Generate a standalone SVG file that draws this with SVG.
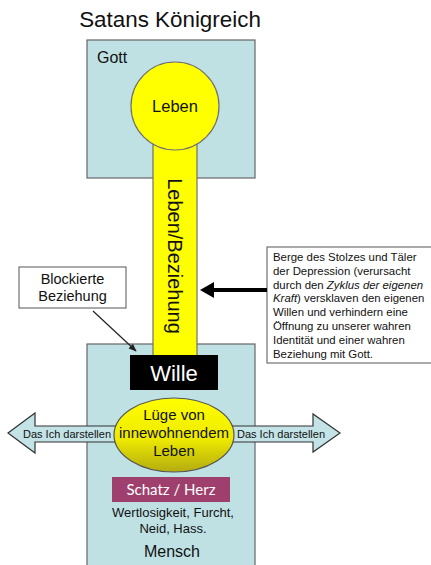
<svg xmlns="http://www.w3.org/2000/svg" width="431" height="565" viewBox="0 0 431 565">
  <style>
    text { font-family: "Liberation Sans", Arial, sans-serif; fill: #111; }
    .realm { fill: #bfe1e4; stroke: #666; stroke-width: 1.2; }
    .gold { fill: #ffff00; stroke: #707070; stroke-width: 1.2; }
    .note { fill: #fff; stroke: #555; stroke-width: 1; }
    .block { fill: #c3e3e6; stroke: #333; stroke-width: 1.2; }
    .mid { text-anchor: middle; }
  </style>
  <defs>
    <linearGradient id="lieGrad" x1="0" y1="0" x2="0" y2="1">
      <stop offset="0" stop-color="#ffff00"/>
      <stop offset="0.55" stop-color="#eeea00"/>
      <stop offset="1" stop-color="#b3ac10"/>
    </linearGradient>
    <marker id="thinHead" viewBox="0 0 10 10" refX="9" refY="5" markerWidth="8" markerHeight="8" orient="auto" markerUnits="userSpaceOnUse">
      <path d="M0,1 L10,5 L0,9 Z" fill="#222"/>
    </marker>
  </defs>

  <!-- title -->
  <g id="title">
    <text class="mid" x="170" y="27" font-size="22.4">Satans Königreich</text>
  </g>

  <!-- upper realm -->
  <g id="gott">
    <rect class="realm" x="87" y="40" width="168" height="138"/>
    <text x="97" y="63" font-size="16">Gott</text>
  </g>

  <!-- lower realm -->
  <g id="mensch">
    <rect class="realm" x="87" y="344" width="168" height="230"/>
    <text class="mid" x="172" y="557" font-size="16">Mensch</text>
  </g>

  <!-- channel of life between the two realms -->
  <g id="beziehung">
    <rect class="gold" x="153" y="140" width="44" height="216"/>
    <text class="mid" transform="translate(168,256) rotate(90)" font-size="20">Leben/Beziehung</text>
  </g>

  <g id="leben">
    <circle class="gold" cx="175" cy="106" r="44"/>
    <text class="mid" x="175" y="112" font-size="16.5">Leben</text>
  </g>

  <g id="wille">
    <rect x="130" y="355" width="88" height="35" fill="#000"/>
    <text class="mid" x="174" y="381" font-size="22" style="fill:#fff">Wille</text>
  </g>

  <!-- self-display arrows -->
  <g id="darstellen-links">
    <polygon class="block" points="8,433 35,413 35,426 125,426 125,442 35,442 35,453"/>
    <text x="23" y="437.5" font-size="11">Das Ich darstellen</text>
  </g>
  <g id="darstellen-rechts">
    <polygon class="block" points="225,426 313,426 313,414 340,433 313,452 313,442 225,442"/>
    <text x="237" y="437.5" font-size="11">Das Ich darstellen</text>
  </g>

  <g id="luege">
    <ellipse cx="174" cy="435" rx="60" ry="37" fill="url(#lieGrad)" stroke="#555" stroke-width="1.2"/>
    <text class="mid" x="174" y="420" font-size="15">Lüge von</text>
    <text class="mid" x="174" y="438" font-size="15">innewohnendem</text>
    <text class="mid" x="174" y="456" font-size="15">Leben</text>
  </g>

  <g id="schatz">
    <rect x="112" y="477" width="118" height="25" fill="#9f3f6d"/>
    <text class="mid" x="171" y="495" font-size="15" style="fill:#fff;font-family:Lato,'Open Sans',sans-serif">Schatz / Herz</text>
  </g>

  <g id="gefuehle">
    <text class="mid" x="173" y="517" font-size="13">Wertlosigkeit, Furcht,</text>
    <text class="mid" x="173" y="533" font-size="13">Neid, Hass.</text>
  </g>

  <!-- callouts -->
  <g id="blockiert">
    <rect class="note" x="19" y="267" width="107" height="41"/>
    <text class="mid" x="72.5" y="284" font-size="14.5">Blockierte</text>
    <text class="mid" x="72.5" y="301" font-size="14.5">Beziehung</text>
  </g>

  <g id="berge">
    <rect class="note" x="267" y="247" width="180" height="116"/>
    <g font-size="11.4">
      <text x="273" y="261">Berge des Stolzes und Täler</text>
      <text x="273" y="274.8">der Depression (verursacht</text>
      <text x="273" y="288.6">durch den <tspan font-style="italic">Zyklus der eigenen</tspan></text>
      <text x="273" y="302.4"><tspan font-style="italic">Kraft</tspan>) versklaven den eigenen</text>
      <text x="273" y="316.2">Willen und verhindern eine</text>
      <text x="273" y="330">Öffnung zu unserer wahren</text>
      <text x="273" y="343.8">Identität und einer wahren</text>
      <text x="273" y="357.6">Beziehung mit Gott.</text>
    </g>
  </g>

  <!-- connectors -->
  <g id="connectors">
    <line x1="93" y1="311" x2="136" y2="351" stroke="#222" stroke-width="1.2" marker-end="url(#thinHead)"/>
    <line x1="267" y1="290" x2="212" y2="290" stroke="#000" stroke-width="4"/>
    <polygon points="200,290 214,282 214,298" fill="#000"/>
  </g>
</svg>
